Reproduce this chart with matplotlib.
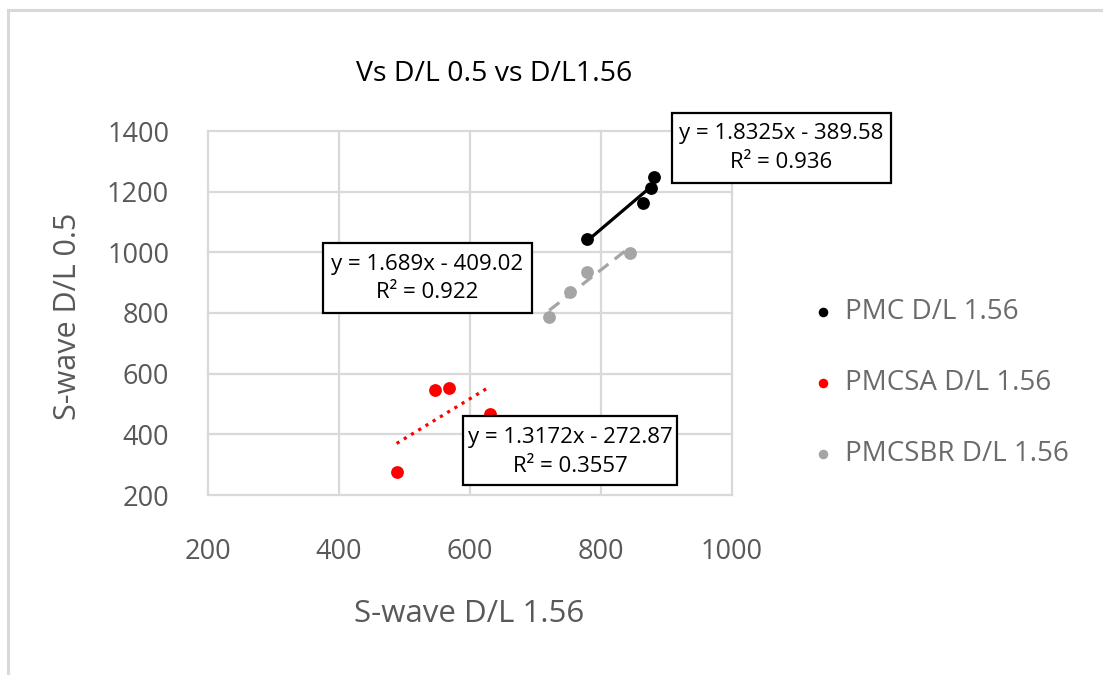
import matplotlib
matplotlib.use("Agg")
import matplotlib.pyplot as plt
from matplotlib.patches import Rectangle
import numpy as np

plt.rcParams['font.family'] = ['Open Sans', 'DejaVu Sans']

# ---- data ----
series_names = ["PMC D/L 1.56", "PMCSA D/L 1.56", "PMCSBR D/L 1.56"]
series_colors = ["#000000", "#ff0000", "#a5a5a5"]

pmc_x = [778, 864, 876, 881]
pmc_y = [1043, 1164, 1213, 1247]

pmcsa_x = [488, 546, 568, 630]
pmcsa_y = [277, 546, 554, 467]

pmcsbr_x = [721, 753, 779, 844]
pmcsbr_y = [786, 870, 936, 999]

# trend-line coefficients (as shown in the chart labels)
trend_slopes = [1.8325, 1.3172, 1.689]
trend_intercepts = [-389.58, -272.87, -409.02]
trend_r2 = ["0.936", "0.3557", "0.922"]

x_ticks = [200, 400, 600, 800, 1000]
y_ticks = [200, 400, 600, 800, 1000, 1200, 1400]

title = "Vs D/L 0.5 vs D/L1.56"
x_label = "S-wave D/L 1.56"
y_label = "S-wave D/L 0.5"

# ---- figure ----
W, H = 1103, 675
fig = plt.figure(figsize=(W / 100, H / 100), dpi=100)
fig.patch.set_facecolor("white")

def fx(px):
    return px / W

def fy(py):
    return 1 - py / H

# chart border (light grey)
fig.add_artist(plt.Line2D([fx(8), fx(8)], [fy(10), fy(676)], color="#d9d9d9", lw=2.2, transform=fig.transFigure))
fig.add_artist(plt.Line2D([fx(8), fx(1104)], [fy(10), fy(10)], color="#d9d9d9", lw=2.2, transform=fig.transFigure))

ax = fig.add_axes([fx(208), fy(495), (732 - 208) / W, (495 - 131) / H])
ax.set_xlim(200, 1000)
ax.set_ylim(200, 1400)
ax.set_xticks(x_ticks)
ax.set_yticks(y_ticks)
for s in ax.spines.values():
    s.set_visible(False)
ax.grid(True, color="#d9d9d9", lw=1.6)
for gl in ax.get_xgridlines() + ax.get_ygridlines():
    gl.set_clip_on(False)
ax.set_axisbelow(True)
ax.tick_params(axis="both", length=0, labelsize=19.5, labelcolor="#595959")
ax.tick_params(axis="x", pad=31)
ax.tick_params(axis="y", pad=28)

xs = [pmc_x, pmcsa_x, pmcsbr_x]
ys = [pmc_y, pmcsa_y, pmcsbr_y]
styles = ["-", ":", (0, (4, 2.5))]
handles = []
for i in range(3):
    h = ax.scatter(xs[i], ys[i], s=85, color=series_colors[i], zorder=3, label=series_names[i], linewidths=0)
    handles.append(h)
    xx = np.array([min(xs[i]), max(xs[i])])
    ax.plot(xx, trend_slopes[i] * xx + trend_intercepts[i], color=series_colors[i],
            lw=2.3, ls=styles[i], zorder=4, solid_capstyle="butt", dash_capstyle="butt")

# trendline label boxes
boxes = [(672, 113, 891, 183), (463, 416, 677, 485), (323, 243, 532, 313)]
for i, (l, t, r, b) in enumerate(boxes):
    fig.add_artist(Rectangle((fx(l), fy(b)), fx(r) - fx(l), fy(t) - fy(b), transform=fig.transFigure,
                             fill=True, facecolor="white", edgecolor="black", lw=1.6, zorder=5))
    cx = (l + r) / 2
    sign = "-" if trend_intercepts[i] < 0 else "+"
    eq = f"y = {trend_slopes[i]:g}x {sign} {abs(trend_intercepts[i]):.2f}"
    fig.text(fx(cx), fy(t + 21), eq, ha="center", va="center", fontsize=16, color="#000000", zorder=6)
    fig.text(fx(cx), fy(t + 50), f"R² = {trend_r2[i]}", ha="center", va="center", fontsize=16, color="#000000", zorder=6)

fig.text(fx(494), fy(74), title, ha="center", va="center", fontsize=20.5, color="#000000")
fig.text(fx(469), fy(614), x_label, ha="center", va="center", fontsize=22.5, color="#595959")
fig.text(fx(68), fy(316), y_label, ha="center", va="center", fontsize=22, color="#595959", rotation=90)

leg = ax.legend(handles=handles, loc="center left", bbox_to_anchor=(fx(810), fy(383)),
                bbox_transform=fig.transFigure, frameon=False, fontsize=20,
                labelspacing=1.55, handletextpad=0.35, handlelength=0.9, markerscale=0.75,
                borderpad=0, borderaxespad=0)
for t in leg.get_texts():
    t.set_color("#6b6b6b")

fig.savefig("out.png", dpi=100)
